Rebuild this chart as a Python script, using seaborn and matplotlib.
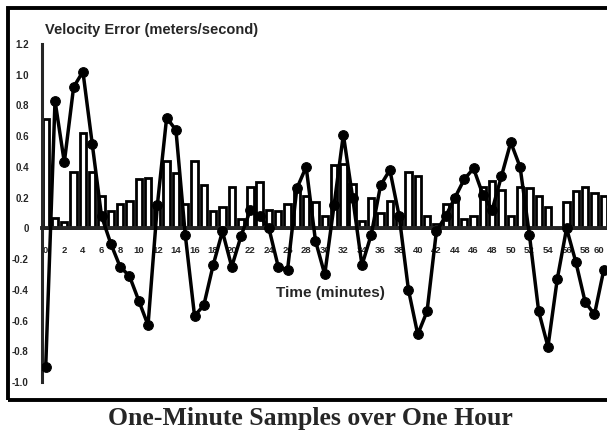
import matplotlib
matplotlib.use("Agg")
import matplotlib.pyplot as plt
from matplotlib.patches import Rectangle
import seaborn as sns
import pandas as pd

# One sample per minute over one hour
minutes = list(range(61))

# Magnitude of the error at each minute (bars)
error_magnitude = [
    0.71, 0.07, 0.04, 0.37, 0.62, 0.37, 0.21, 0.11, 0.16, 0.18,
    0.32, 0.33, 0.15, 0.44, 0.36, 0.16, 0.44, 0.28, 0.11, 0.14,
    0.27, 0.06, 0.27, 0.30, 0.12, 0.11, 0.16, 0.24, 0.21, 0.17,
    0.08, 0.41, 0.42, 0.29, 0.05, 0.20, 0.10, 0.18, 0.06, 0.37,
    0.34, 0.08, 0.03, 0.16, 0.21, 0.06, 0.08, 0.27, 0.31, 0.25,
    0.08, 0.27, 0.26, 0.21, 0.14, 0.00, 0.17, 0.24, 0.27, 0.23, 0.21,
]

# Signed velocity error at each minute (line)
velocity_error = [
    -0.90, 0.83, 0.43, 0.92, 1.02, 0.55, 0.08, -0.10, -0.25, -0.31,
    -0.47, -0.63, 0.15, 0.72, 0.64, -0.04, -0.57, -0.50, -0.24, -0.02,
    -0.25, -0.05, 0.12, 0.08, 0.00, -0.25, -0.27, 0.26, 0.40, -0.08,
    -0.30, 0.15, 0.61, 0.20, -0.24, -0.04, 0.28, 0.38, 0.08, -0.40,
    -0.69, -0.54, -0.02, 0.08, 0.20, 0.32, 0.39, 0.22, 0.12, 0.34,
    0.56, 0.40, -0.04, -0.54, -0.77, -0.33, 0.00, -0.22, -0.48, -0.56, -0.27,
]

y_ticks = [1.2, 1.0, 0.8, 0.6, 0.4, 0.2, 0.0, -0.2, -0.4, -0.6, -0.8, -1.0]
y_tick_labels = ["1.2", "1.0", "0.8", "0.6", "0.4", "0.2", "0",
                 "-0.2", "-0.4", "-0.6", "-0.8", "-1.0"]
x_label_ticks = list(range(0, 61, 2))

df = pd.DataFrame({"minute": minutes,
                   "magnitude": error_magnitude,
                   "velocity": velocity_error})

sns.set_style("white")
plt.rcParams["font.family"] = ["Liberation Sans", "DejaVu Sans"]
plt.rcParams["hatch.linewidth"] = 1.2

fig = plt.figure(figsize=(6.07, 4.33), dpi=100)
ax = fig.add_axes([42 / 607, 1 - 382 / 433, (607.5 - 42) / 607, (382 - 44) / 433])

sns.barplot(data=df, x="minute", y="magnitude", native_scale=True, width=0.68,
            color="white", edgecolor="black", linewidth=2.0, saturation=1,
            ax=ax, zorder=2)
for bar in ax.patches:
    bar.set_hatch(":")

sns.lineplot(data=df, x="minute", y="velocity", color="black", linewidth=2.5,
             marker="o", markersize=7, markeredgecolor="black",
             ax=ax, zorder=4)

ax.set_xlim(-0.4, 60.4)
ax.set_ylim(-1.0, 1.2)
ax.set_xlabel("")
ax.set_ylabel("")

# Axes drawn through zero and at the left edge
for side in ("top", "right"):
    ax.spines[side].set_visible(False)
ax.spines["bottom"].set_position(("data", 0))
ax.spines["bottom"].set_linewidth(2.8)
ax.spines["bottom"].set_zorder(3)
ax.spines["left"].set_linewidth(2.2)

ax.set_xticks(minutes, minor=True)
ax.set_xticks(x_label_ticks)
ax.set_xticklabels([str(t) for t in x_label_ticks])
ax.tick_params(axis="x", which="both", direction="out", length=4, width=1.8,
               color="black")
ax.tick_params(axis="x", which="major", pad=9, labelsize=6.8)
for lab in ax.get_xticklabels():
    lab.set_fontweight("bold")
ax.get_xticklabels()[-1].set_horizontalalignment("right")

ax.set_yticks(y_ticks)
ax.set_yticklabels(y_tick_labels)
ax.tick_params(axis="y", direction="inout", length=9, width=1.8,
               color="black", pad=5, labelsize=7)
for lab in ax.get_yticklabels():
    lab.set_fontweight("bold")

ax.text(-0.1, 1.29, "Velocity Error (meters/second)", fontsize=10.5,
        fontweight="bold", ha="left", va="center", transform=ax.transData,
        clip_on=False)
ax.text(30.6, -0.42, "Time (minutes)", fontsize=11, fontweight="bold",
        ha="center", va="center")

# Outer frame around the chart
fig.add_artist(Rectangle((8 / 607, 1 - 400 / 433), 1.2, (400 - 8) / 433,
                         transform=fig.transFigure, fill=False,
                         edgecolor="black", linewidth=2.8))

fig.text(310 / 607, 1 - 418 / 433, "One-Minute Samples over One Hour",
         family=["Liberation Serif", "DejaVu Serif"], fontweight="bold",
         fontsize=18.5, ha="center", va="center")

fig.savefig("out.png", dpi=100)
